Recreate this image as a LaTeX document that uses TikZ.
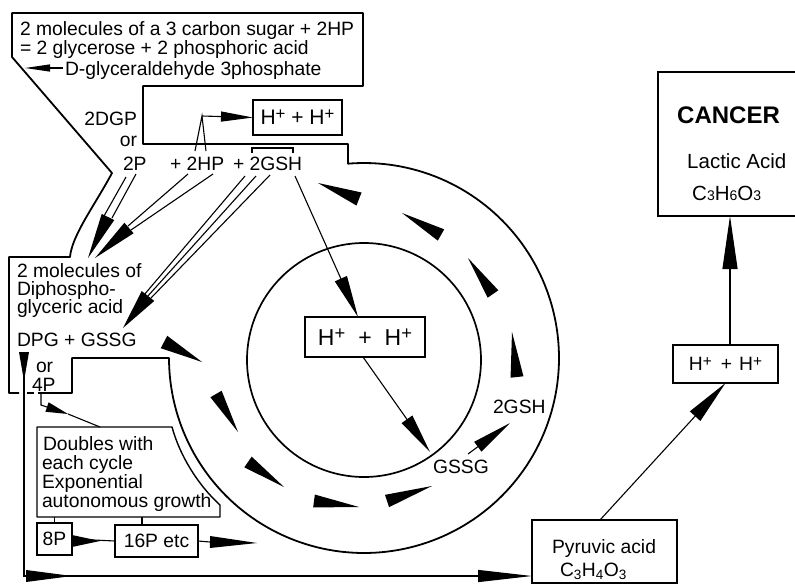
\documentclass[tikz,border=0pt]{standalone}
\usepackage{fontspec}
\usepackage{graphicx}
\setmainfont{Liberation Sans}
\usetikzlibrary{arrows.meta,calc}
\newcommand{\wdg}[3]{\fill (#1) -- ($(#2)!#3!90:(#1)$) -- ($(#2)!#3!-90:(#1)$) -- cycle;}
\newcommand{\Hp}{H\raisebox{0.25em}{\scalebox{0.8}{+}}}
\begin{document}
\begin{tikzpicture}[x=1pt,y=-1pt,
  txt/.style={font=\fontsize{19.3}{20}\selectfont, inner sep=0pt, outer sep=0pt},
  bx/.style={draw, line width=1.4pt, inner sep=0pt, outer sep=0pt},
  conn/.style={line width=1.1pt},
  frame/.style={line width=1.8pt, line join=round},
  headA/.style={-{Triangle[length=#1,width=13pt]}},
  headA/.default=40pt]
\useasboundingbox (0,0) rectangle (795,584);

% ---------- outer frame ----------
\draw[frame] (38,393) -- (72,393) -- (72,358) -- (169,358)
  -- plot[domain=180:-94.7, samples=160] ({364+195*cos(\x)},{358+195*sin(\x)})
  -- (348,144) -- (143,144) -- (143,86) -- (363,86) -- (363,13) -- (12,13) -- (12,57)
  -- (112,173) .. controls (95,205) and (72,235) .. (70,257) -- (9,257) -- (9,393) -- (19,393);
\draw[frame] (27,393) -- (34,393);

% inner circle
\draw[line width=1.7pt] (364,360) circle[radius=117];

% ---------- top box text ----------
\node[txt, anchor=base west] (t1) at (20,35) {2 molecules of a 3 carbon sugar + 2HP};
\node[txt, anchor=base west] (t2) at (20,54) {= 2 glycerose + 2 phosphoric acid};
\node[txt, anchor=base west] (t3) at (65,75) {D-glyceraldehyde 3phosphate};
\coordinate (t3s) at (63,68);
\coordinate (t3e) at (25,68);
\draw[conn, -{Triangle[length=25pt,width=7pt]}] (t3s) -- (t3e);

\node[txt, anchor=base east] (dgp) at (137,125) {2DGP};
\node[txt, anchor=base east] (or1) at (137,146) {or};
\node[txt, anchor=base west] (p2) at (123,170) {2P};
\node[txt, anchor=base west] (hp) at (170,170) {+ 2HP};
\node[txt, anchor=base west] (gsh) at (233,170) {+ 2GSH};
\draw[conn] (252,153) -- (252,148) -- (293,148) -- (293,153);

% H+ + H+ top
\node[bx, minimum width=89pt, minimum height=35pt, font=\fontsize{21}{21}\selectfont] (htop) at (297.5,117.5) {\Hp{} + \Hp};
\coordinate (peak) at (202,116);
\draw[conn] (195,151) -- (peak) -- (206,151);
\draw[conn, -{Triangle[length=32pt,width=10pt]}] (peak) -- (htop.west);

% arrows to "2 molecules of"
\draw[conn] (126,177) -- (104,216);
\draw[conn] (136,174) -- (112,218);
\wdg{88,258}{108,217}{7pt}
\draw[conn] (188,174) -- (128,226);
\draw[conn] (213,174) -- (131,230);
\wdg{95,258}{129,228}{7pt}
\draw[conn] (245,176) -- (144,295);
\draw[conn] (256,176) -- (147,297);
\draw[conn] (270,175) -- (151,298);
\wdg{123,328}{148,296}{8pt}

% ---------- left block ----------
\node[txt, anchor=base west] (m1) at (17,277) {2 molecules of};
\node[txt, anchor=base west] (m2) at (17,295) {Diphospho-};
\node[txt, anchor=base west] (m3) at (17,313) {glyceric acid};
\node[txt, anchor=base west] (dpg) at (17,346) {DPG + GSSG};
\node[txt, anchor=base west] (or2) at (36,372) {or};
\node[txt, anchor=base west] (p4) at (32,391) {4P};

% entry wedge into the ring
\wdg{202,362}{164,342}{7pt}

% ---------- inner H+ ----------
\node[bx, minimum width=120pt, minimum height=40pt, font=\fontsize{23}{23}\selectfont] (hin) at (365,337) {\Hp\hspace{13pt}+\hspace{13pt}\Hp};
\draw[conn, headA=42pt] (295,176) -- ([xshift=-7pt]hin.north);
\node[txt, anchor=base west] (gssg) at (433,473) {GSSG};
\node[txt, anchor=base west] (g2) at (493,413) {2GSH};
\coordinate (gtip) at (430,452);
\draw[conn, headA=40pt] ([xshift=-2pt]hin.south) -- (gtip);
\draw[conn, -{Triangle[length=40pt,width=12pt]}] (468,454) -- (510,423);

% ---------- ring wedges ----------
\wdg{318,183}{359,199}{7pt}
\wdg{402,213}{441,235}{6.5pt}
\wdg{468,258}{493,294}{6.5pt}
\wdg{512,332}{517,377}{6.5pt}
\wdg{238,432}{216,394}{6.5pt}
\wdg{284,487}{248,462}{6.5pt}
\wdg{359,507}{314,501}{6.5pt}
\wdg{432,486}{387,501}{6.5pt}

% ---------- vertical / bottom arrow ----------
\coordinate (vtop) at (24,352);
\coordinate (vbot) at (24,576);
\wdg{24,381}{24,352}{5pt}
\node[bx, minimum width=145pt, minimum height=63pt] (pyr) at (604.5,551.5) {};
\draw[conn, -{Triangle[length=54pt,width=12pt]}] (vtop) -- (vbot) -- (vbot -| pyr.west);
\wdg{72,576}{26,576}{6pt}
\node[txt, anchor=base west] (pyt) at (552,553) {Pyruvic acid};
\node[txt, anchor=base west] (pyf) at (560,576) {C\textsubscript{3}H\textsubscript{4}O\textsubscript{3}};

% ---------- 4P -> doubles ----------
\draw[conn] (41,393) -- (41,405) -- (47,407);
\wdg{68,414}{47,407}{5pt}
\draw[conn] (68,414) -- (100,427);

% doubles box
\draw[line width=1.4pt, line join=round] (37,427) -- (172,427) .. controls (180,456) and (198,485) .. (220,505) -- (220,517) -- (37,517) -- cycle;
\node[txt, anchor=base west] (d1) at (43,450) {Doubles with};
\node[txt, anchor=base west] (d2) at (42,469) {each cycle};
\node[txt, anchor=base west] (d3) at (42,488) {Exponential};
\node[txt, anchor=base west] (d4) at (42,507) {autonomous growth};

\node[bx, txt, draw, line width=1.4pt, minimum width=35pt, minimum height=32pt] (eight) at (54.5,539) {8P};
\node[bx, txt, draw, line width=1.4pt, minimum width=83pt, minimum height=32pt] (six) at (156.5,541) {16P etc};
\draw[conn] (eight.north) -- (eight.north |- 0,517);
\draw[conn] ([xshift=-14.5pt]six.north) -- ++(0,-8);
\draw[conn] (eight.east) -- (six.west);
\wdg{100,541}{72,541}{6pt}
\coordinate (sixa) at (210,542);
\draw[conn] (six.east) -- (sixa);
\wdg{257,543}{210,542}{6pt}

% ---------- right side ----------
\node[bx, minimum width=105pt, minimum height=38pt, font=\fontsize{19.3}{20}\selectfont] (hright) at (725.5,364) {\Hp\hspace{9pt}+\hspace{7pt}\Hp};
\draw[conn, -{Triangle[length=45pt,width=14pt]}] ([xshift=-4.5pt]pyr.north) -- (hright.south);
\draw[line width=1.4pt] (795,72) -- (658,72) -- (658,216) -- (795,216);
\coordinate (cb) at (730,216);
\draw[conn, -{Triangle[length=53pt,width=15pt]}] ([xshift=4.5pt]hright.north) -- (cb);
\node[anchor=base west, inner sep=0pt, font=\bfseries\fontsize{24}{24}\selectfont] (can) at (677,123) {CANCER};
\node[anchor=base west, inner sep=0pt, font=\fontsize{20.5}{21}\selectfont] (lac) at (687,168) {Lactic Acid};
\node[anchor=base west, inner sep=0pt, font=\fontsize{20.5}{21}\selectfont] (lacf) at (692,200) {C{\fontsize{14}{14}\selectfont 3}H{\fontsize{14}{14}\selectfont 6}O{\fontsize{14}{14}\selectfont 3}};
\end{tikzpicture}
\end{document}
